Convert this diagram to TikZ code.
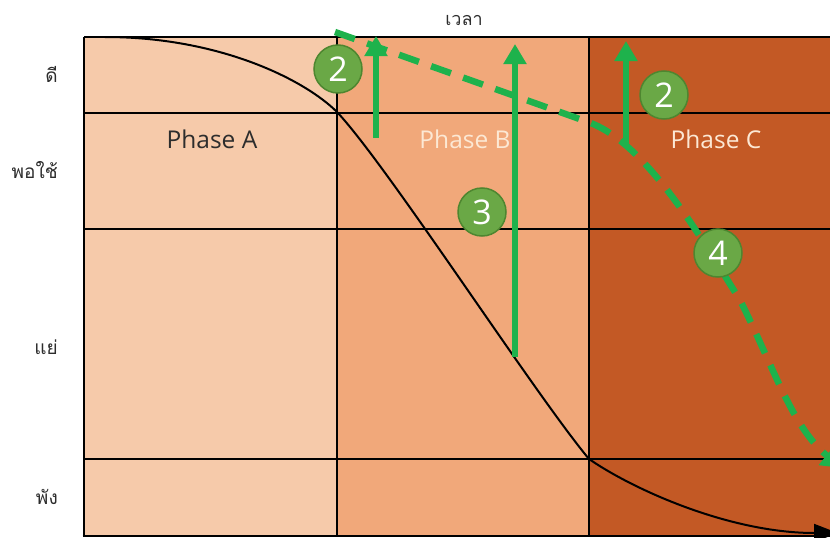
\documentclass[tikz,border=0pt]{standalone}
\usepackage{fontspec}
\setmainfont{Open Sans}
\newfontfamily\thaifont[Script=Thai]{Loma}
\usetikzlibrary{arrows.meta}
\definecolor{phA}{RGB}{246,202,170}
\definecolor{phB}{RGB}{241,168,122}
\definecolor{phC}{RGB}{195,89,37}
\definecolor{grn}{RGB}{30,178,76}
\definecolor{cfill}{RGB}{106,168,70}
\definecolor{cedge}{RGB}{78,134,48}
\definecolor{lbl}{RGB}{45,45,45}
\definecolor{pale}{RGB}{252,232,212}
\tikzset{
  gridline/.style={draw=black, line width=2.8pt},
  thailbl/.style={anchor=east, text=lbl, font=\thaifont\fontsize{19}{22}\selectfont, inner sep=0pt},
  phaselbl/.style={font=\fontsize{24.5}{28}\selectfont, inner sep=0pt},
  numcirc/.style={circle, fill=cfill, draw=cedge, line width=1.5pt, minimum size=48pt, inner sep=0pt, text=white, font=\fontsize{34}{34}\selectfont},
  uparrow/.style={draw=grn, line width=6pt, -{Triangle[width=22pt,length=20pt]}},
  dasharrow/.style={draw=grn, line width=6.5pt, dash pattern=on 21pt off 13pt, -{Triangle[width=24pt,length=20pt]}},
  curvearrow/.style={draw=black, line width=2pt, -{Triangle[width=18pt,length=24pt]}}
}
\begin{document}
\begin{tikzpicture}[x=1pt,y=-1pt]
\useasboundingbox (0,0) rectangle (830,538);
% column fills
\fill[phA] (84,37) rectangle (337,536);
\fill[phB] (337,37) rectangle (589,536);
\fill[phC] (589,37) rectangle (830,536);
% grid
\draw[gridline] (84,37) -- (830,37);
\draw[gridline] (84,113) -- (830,113);
\draw[gridline] (84,229) -- (830,229);
\draw[gridline] (84,459) -- (830,459);
\draw[gridline] (82.6,536) -- (830,536);
\draw[gridline] (84,37) -- (84,536);
\draw[gridline] (337,37) -- (337,536);
\draw[gridline] (589,37) -- (589,536);
% axis labels
\node[anchor=center, text=lbl, font=\thaifont\fontsize{18}{20}\selectfont] (time) at (464,20) {เวลา};
\node[thailbl] (good) at (58,74) {ดี};
\node[thailbl] (fair) at (58,170) {พอใช้};
\node[thailbl] (bad) at (58,347) {แย่};
\node[thailbl] (broken) at (58,497) {พัง};
% phase labels
\node[phaselbl, text=lbl] (pa) at (212,139) {Phase A};
\node[phaselbl, text=pale] (pb) at (465,139) {Phase B};
\node[phaselbl, text=pale] (pc) at (716,139) {Phase C};
% black performance curve
\coordinate (c0) at (105,37);
\coordinate (c1) at (337,112);
\coordinate (c2) at (589,459);
\coordinate (c3) at (838,533);
\draw[curvearrow] (c0) .. controls (220,37) and (305,80) .. (c1)
  .. controls (387,165) and (534,393) .. (c2)
  .. controls (634,490) and (730,533) .. (c3);
% green dashed path
\coordinate (d0) at (335,32);
\coordinate (d1) at (588,122);
\coordinate (d2) at (740,300);
\coordinate (d3) at (842,468);
\draw[dasharrow] (d0) -- (d1) .. controls (648,143) and (705,245) .. (d2)
  .. controls (775,370) and (792,427) .. (d3);
% green up arrows
\coordinate (u1s) at (376,138);
\coordinate (u1e) at (376,36);
\coordinate (u2s) at (515,357);
\coordinate (u2e) at (515,44);
\coordinate (u3s) at (626,144);
\coordinate (u3e) at (626,41);
\draw[uparrow] (u1s) -- (u1e);
\draw[uparrow] (u2s) -- (u2e);
\draw[uparrow] (u3s) -- (u3e);
% numbered circles
\node[numcirc] (n2a) at (338,69) {2};
\node[numcirc] (n2b) at (664,95) {2};
\node[numcirc] (n3) at (482,212) {3};
\node[numcirc] (n4) at (718,253) {4};
\end{tikzpicture}
\end{document}
